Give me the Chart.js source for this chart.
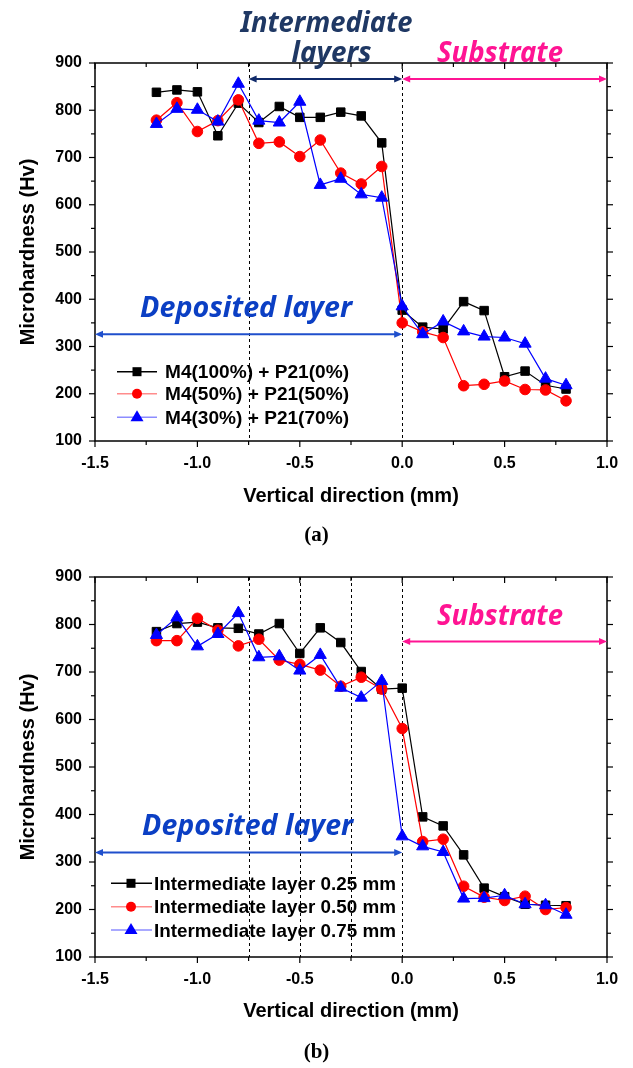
<!DOCTYPE html>
<html>
<head>
<meta charset="utf-8">
<script src="https://cdn.jsdelivr.net/npm/chart.js@4.4.1/dist/chart.umd.min.js"></script>
<style>
  html, body { margin: 0; padding: 0; background: #fff; }
  #wrap { position: relative; width: 633px; height: 1068px; overflow: hidden; background: #fff; }
  canvas { position: absolute; left: 0; }
  .cap { position: absolute; width: 633px; left: 0; text-align: center; font: bold 21px "Liberation Serif", "DejaVu Serif", serif; color: #000; }
</style>
</head>
<body>
<div id="wrap">
  <canvas id="cA" width="633" height="520" style="top:0px"></canvas>
  <canvas id="cB" width="633" height="548" style="top:520px"></canvas>
  <div class="cap" style="top:522px">(a)</div>
  <div class="cap" style="top:1039px">(b)</div>
</div>
<script>
// ---------- data ----------
const xPositions = [-1.2,-1.1,-1.0,-0.9,-0.8,-0.7,-0.6,-0.5,-0.4,-0.3,-0.2,-0.1,0.0,0.1,0.2,0.3,0.4,0.5,0.6,0.7,0.8];

const topLabels = ["M4(100%) + P21(0%)", "M4(50%) + P21(50%)", "M4(30%) + P21(70%)"];
const topBlack = [838,843,839,746,815,774,808,785,785,796,788,731,377,341,337,395,376,236,248,218,210];
const topRed   = [779,816,755,778,822,730,733,702,737,667,644,681,350,331,319,217,220,227,209,208,185];
const topBlue  = [771,803,801,776,856,778,774,818,642,655,622,615,385,326,353,332,321,319,306,232,218];

const botLabels = ["Intermediate layer 0.25 mm", "Intermediate layer 0.50 mm", "Intermediate layer 0.75 mm"];
const botBlack = [785,802,805,793,792,780,802,739,793,762,701,664,666,395,376,315,245,227,211,209,208];
const botRed   = [766,766,813,788,755,769,725,716,704,670,689,664,581,343,348,249,226,219,228,200,204];
const botBlue  = [778,815,754,780,824,731,733,703,736,667,646,681,354,333,321,223,224,230,211,209,189];

const xTickMin = -1.5, xTickMax = 1.0, xTickStep = 0.25;
const yTickMin = 100, yTickMax = 900, yTickStep = 50;

const topDividers = [-0.75, 0.0];
const botDividers = [-0.75, -0.5, -0.25, 0.0];

// ---------- helpers ----------
const TICK_FONT = { family: "'Liberation Sans', Arial, sans-serif", size: 16, weight: 'bold' };
const TITLE_FONT = { family: "'Liberation Sans', Arial, sans-serif", size: 20, weight: 'bold' };
const ANN_FONT = "italic bold 29px 'Noto Sans', 'DejaVu Sans', sans-serif";
const LEG_FONT = "bold 18.5px 'Liberation Sans', Arial, sans-serif";

function pts(arr) { return xPositions.map((x, i) => ({ x: x, y: arr[i] })); }

function makeDatasets(labels, b, r, u) {
  return [
    { label: labels[0], data: pts(b), borderColor: '#000000', backgroundColor: '#000000', borderWidth: 1.2,
      pointStyle: 'rect', pointRadius: 6, pointBorderWidth: 1, order: 3, legendLine: '#000000' },
    { label: labels[1], data: pts(r), borderColor: '#ff0000', backgroundColor: '#ff0000', borderWidth: 1.2,
      pointStyle: 'circle', pointRadius: 5.3, pointBorderWidth: 1, order: 2, legendLine: '#ff8c8c' },
    { label: labels[2], data: pts(u), borderColor: '#0000ff', backgroundColor: '#0000ff', borderWidth: 1.2,
      pointStyle: 'triangle', pointRadius: 7, pointBorderWidth: 1, order: 1, legendLine: '#8c8cff' }
  ];
}

function fitText(ctx, text, x1, x2, y, font, color) {
  ctx.save();
  ctx.font = font;
  const w = ctx.measureText(text).width;
  const s = (x2 - x1) / w;
  ctx.translate(x1, y);
  ctx.scale(s, 1);
  ctx.fillStyle = color;
  ctx.textBaseline = 'alphabetic';
  ctx.textAlign = 'left';
  ctx.fillText(text, 0, 0);
  ctx.restore();
}

function arrow(ctx, xa, xb, y, color) {
  ctx.save();
  ctx.strokeStyle = color; ctx.fillStyle = color; ctx.lineWidth = 2;
  const h = 8, w = 3.5;
  ctx.beginPath(); ctx.moveTo(xa + 3, y); ctx.lineTo(xb - 3, y); ctx.stroke();
  ctx.beginPath(); ctx.moveTo(xa, y); ctx.lineTo(xa + h, y - w); ctx.lineTo(xa + h, y + w); ctx.closePath(); ctx.fill();
  ctx.beginPath(); ctx.moveTo(xb, y); ctx.lineTo(xb - h, y - w); ctx.lineTo(xb - h, y + w); ctx.closePath(); ctx.fill();
  ctx.restore();
}

const decorPlugin = {
  id: 'decor',
  beforeDatasetsDraw(chart) {
    const cfg = chart.options.plugins.decor;
    const ctx = chart.ctx, a = chart.chartArea, xs = chart.scales.x;
    ctx.save();
    ctx.strokeStyle = '#000'; ctx.lineWidth = 1; ctx.setLineDash([3, 3]);
    cfg.dividers.forEach(v => {
      const px = Math.round(xs.getPixelForValue(v)) + 0.5;
      ctx.beginPath(); ctx.moveTo(px, a.top); ctx.lineTo(px, a.bottom); ctx.stroke();
    });
    ctx.restore();
  },
  afterDraw(chart) {
    const cfg = chart.options.plugins.decor;
    const ctx = chart.ctx, a = chart.chartArea, xs = chart.scales.x, ys = chart.scales.y;
    // frame
    ctx.save();
    ctx.strokeStyle = '#000'; ctx.lineWidth = 1.5;
    ctx.strokeRect(a.left, a.top, a.right - a.left, a.bottom - a.top);
    ctx.lineWidth = 1.2;
    for (let v = xTickMin; v <= xTickMax + 1e-9; v += xTickStep) {
      const px = xs.getPixelForValue(v);
      const major = Math.abs(v * 2 - Math.round(v * 2)) < 1e-6;
      const len = major ? 6 : 4;
      ctx.beginPath(); ctx.moveTo(px, a.bottom); ctx.lineTo(px, a.bottom + len); ctx.stroke();
      ctx.beginPath(); ctx.moveTo(px, a.top); ctx.lineTo(px, a.top + len); ctx.stroke();
    }
    for (let v = yTickMin; v <= yTickMax + 1e-9; v += yTickStep) {
      const py = ys.getPixelForValue(v);
      const major = v % 100 === 0;
      const len = major ? 6 : 4;
      ctx.beginPath(); ctx.moveTo(a.left, py); ctx.lineTo(a.left - len, py); ctx.stroke();
      ctx.beginPath(); ctx.moveTo(a.right, py); ctx.lineTo(a.right + len, py); ctx.stroke();
    }
    ctx.restore();
    // arrows
    cfg.arrows.forEach(ar => {
      arrow(ctx, xs.getPixelForValue(ar.x1), xs.getPixelForValue(ar.x2), ys.getPixelForValue(ar.y), ar.color);
    });
    // annotation texts
    cfg.texts.forEach(t => {
      fitText(ctx, t.text, xs.getPixelForValue(t.x1), xs.getPixelForValue(t.x2), ys.getPixelForValue(t.y), ANN_FONT, t.color);
    });
    // legend
    const L = cfg.legend;
    chart.data.datasets.forEach((ds, i) => {
      const y = a.top + L.rows[i];
      ctx.save();
      ctx.strokeStyle = ds.legendLine; ctx.lineWidth = 1.5;
      ctx.beginPath(); ctx.moveTo(a.left + L.lineX1, y); ctx.lineTo(a.left + L.lineX2, y); ctx.stroke();
      ctx.fillStyle = ds.backgroundColor;
      const mx = a.left + L.markX;
      if (ds.pointStyle === 'rect') { ctx.fillRect(mx - 4.5, y - 4.5, 9, 9); }
      else if (ds.pointStyle === 'circle') { ctx.beginPath(); ctx.arc(mx, y, 5, 0, Math.PI * 2); ctx.fill(); }
      else { ctx.beginPath(); ctx.moveTo(mx, y - 7); ctx.lineTo(mx + 6.5, y + 4); ctx.lineTo(mx - 6.5, y + 4); ctx.closePath(); ctx.fill(); }
      ctx.restore();
      fitText(ctx, ds.label, a.left + L.textX1, a.left + L.textX2, y + 6.5, LEG_FONT, '#000');
    });
  }
};

function makeChart(canvasId, datasets, decor, plotTopPad, xAxisHeight, titlePadBottom) {
  return new Chart(document.getElementById(canvasId), {
    type: 'line',
    data: { datasets: datasets },
    plugins: [decorPlugin],
    options: {
      responsive: false, animation: false, devicePixelRatio: 1,
      layout: { padding: { top: plotTopPad, right: 26, left: 0, bottom: 0 } },
      plugins: { legend: { display: false }, tooltip: { enabled: false }, decor: decor },
      scales: {
        x: {
          type: 'linear', min: xTickMin, max: xTickMax,
          grid: { display: false }, border: { display: false },
          ticks: { stepSize: xTickStep, autoSkip: false, maxRotation: 0, padding: 5, color: '#000', font: TICK_FONT,
            callback: v => (Math.abs(v * 2 - Math.round(v * 2)) < 1e-6 ? v.toFixed(1) : '') },
          title: { display: true, text: 'Vertical direction (mm)', color: '#000', font: TITLE_FONT, padding: { top: 0, bottom: titlePadBottom } },
          afterFit: s => { s.height = xAxisHeight; }
        },
        y: {
          type: 'linear', min: yTickMin, max: yTickMax,
          grid: { display: false }, border: { display: false },
          ticks: { stepSize: yTickStep, autoSkip: false, padding: 5, color: '#000', font: TICK_FONT,
            callback: v => (v % 100 === 0 ? String(v) : '') },
          title: { display: true, text: 'Microhardness (Hv)', color: '#000', font: TITLE_FONT, padding: { top: 16, bottom: 0 } },
          afterFit: s => { s.width = 95; }
        }
      }
    }
  });
}

makeChart('cA', makeDatasets(topLabels, topBlack, topRed, topBlue), {
  dividers: topDividers,
  arrows: [
    { x1: -0.75, x2: 0.0, y: 866, color: '#102a6a' },
    { x1: 0.0, x2: 1.0, y: 866, color: '#ff1493' },
    { x1: -1.5, x2: 0.0, y: 326, color: '#1f4fcc' }
  ],
  texts: [
    { text: 'Intermediate', x1: -0.79, x2: 0.05, y: 966, color: '#1f3864' },
    { text: 'layers', x1: -0.54, x2: -0.15, y: 903, color: '#1f3864' },
    { text: 'Substrate', x1: 0.17, x2: 0.785, y: 903, color: '#ff1493' },
    { text: 'Deposited layer', x1: -1.28, x2: -0.245, y: 362, color: '#0b3fc4' }
  ],
  legend: { rows: [308.7, 330.8, 354.3], lineX1: 22, lineX2: 62, markX: 42, textX1: 70, textX2: 254 }
}, 63, 79, 12);

makeChart('cB', makeDatasets(botLabels, botBlack, botRed, botBlue), {
  dividers: botDividers,
  arrows: [
    { x1: 0.0, x2: 1.0, y: 764, color: '#ff1493' },
    { x1: -1.5, x2: 0.0, y: 320, color: '#1f4fcc' }
  ],
  texts: [
    { text: 'Substrate', x1: 0.17, x2: 0.785, y: 799, color: '#ff1493' },
    { text: 'Deposited layer', x1: -1.27, x2: -0.24, y: 357, color: '#0b3fc4' }
  ],
  legend: { rows: [306.3, 329.7, 353], lineX1: 16, lineX2: 57, markX: 36, textX1: 59, textX2: 301 }
}, 57, 111, 45);
</script>
</body>
</html>
